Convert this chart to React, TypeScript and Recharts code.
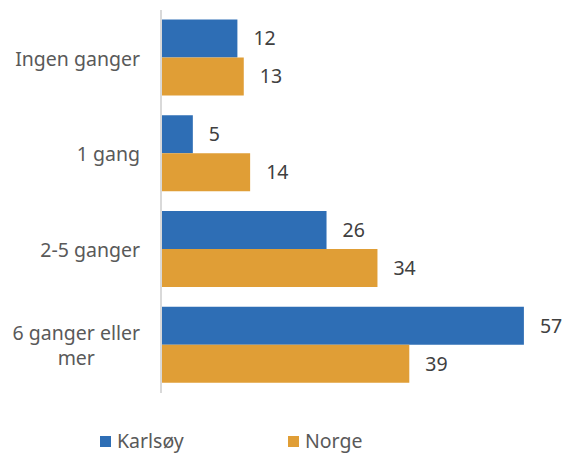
import React from 'react';
import { BarChart, Bar, XAxis, YAxis, LabelList, Legend } from 'recharts';

// Categories and values
const categories = ['Ingen ganger', '1 gang', '2-5 ganger', '6 ganger eller mer'];
const karlsoy = [12, 5, 26, 57];
const norge = [13, 14, 34, 39];

const FONT = '"Noto Sans", sans-serif';
const FS = 19.5;
const BLUE = '#2E6EB5';
const ORANGE = '#E09E36';

const chartData = categories.map((name, i) => ({
  name,
  Karlsøy: karlsoy[i],
  Norge: norge[i]
}));

// crude text measure for centring wrapped lines
const measure = (text: string, size: number) => {
  if (typeof document === 'undefined') return text.length * size * 0.55;
  const ctx = document.createElement('canvas').getContext('2d');
  if (!ctx) return text.length * size * 0.55;
  ctx.font = `${size}px ${FONT}`;
  return ctx.measureText(text).width;
};

const wrap = (text: string, max: number) => {
  const words = text.split(' ');
  const lines: string[] = [];
  let cur = '';
  words.forEach(w => {
    const next = cur ? cur + ' ' + w : w;
    if (cur && next.length > max) {
      lines.push(cur);
      cur = w;
    } else {
      cur = next;
    }
  });
  if (cur) lines.push(cur);
  return lines;
};

const CategoryTick = ({ x, y, payload }: any) => {
  const lines = wrap(payload.value, 14);
  const widest = Math.max(...lines.map(l => measure(l, FS)));
  const lineH = 25;
  const startY = y - ((lines.length - 1) * lineH) / 2 + 1;
  return (
    <g>
      {lines.map((l, i) => (
        <text
          key={i}
          x={lines.length > 1 ? x - widest / 2 : x}
          y={startY + i * lineH}
          dy="0.35em"
          textAnchor={lines.length > 1 ? 'middle' : 'end'}
          fill="#595959"
          fontSize={FS}
          fontFamily={FONT}
        >
          {l}
        </text>
      ))}
    </g>
  );
};

const LegendContent = () => (
  <div style={{ display: 'flex', fontFamily: FONT, fontSize: FS, color: '#595959', lineHeight: '24px' }}>
    {[
      { label: 'Karlsøy', color: BLUE },
      { label: 'Norge', color: ORANGE }
    ].map(item => (
      <div key={item.label} style={{ width: 188, display: 'flex', alignItems: 'center' }}>
        <span style={{ width: 11, height: 11, background: item.color, marginRight: 6, display: 'inline-block' }} />
        <span>{item.label}</span>
      </div>
    ))}
  </div>
);

export default function App() {
  return (
    <div style={{ position: 'absolute', left: 0, top: 0, background: '#fff' }}>
      <BarChart
        width={564}
        height={453}
        data={chartData}
        layout="vertical"
        margin={{ top: 10, right: 21, bottom: 36, left: 0 }}
        barCategoryGap="10%"
        barGap={0}
      >
        <XAxis type="number" domain={[0, 60]} hide />
        <YAxis
          type="category"
          dataKey="name"
          width={161}
          axisLine={{ stroke: '#D9D9D9', strokeWidth: 2 }}
          tickLine={false}
          tickSize={0}
          tickMargin={21}
          tick={<CategoryTick />}
          interval={0}
        />
        <Legend
          content={<LegendContent />}
          wrapperStyle={{ left: 100, top: 429, width: 400 }}
        />
        <Bar dataKey="Karlsøy" fill={BLUE} isAnimationActive={false}>
          <LabelList dataKey="Karlsøy" position="right" offset={16} fill="#404040" fontSize={FS} fontFamily={FONT} />
        </Bar>
        <Bar dataKey="Norge" fill={ORANGE} isAnimationActive={false}>
          <LabelList dataKey="Norge" position="right" offset={16} fill="#404040" fontSize={FS} fontFamily={FONT} />
        </Bar>
      </BarChart>
    </div>
  );
}
